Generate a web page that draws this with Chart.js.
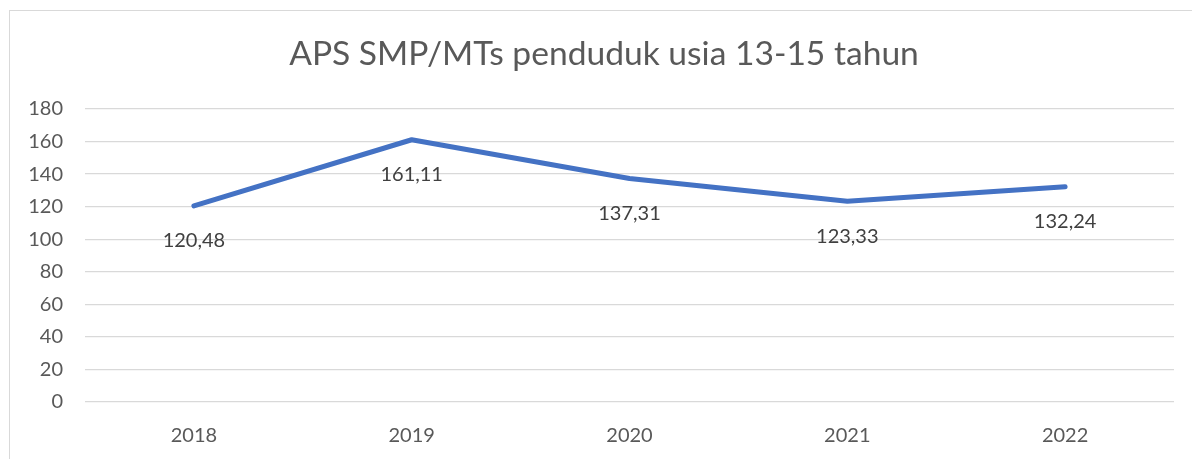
<!DOCTYPE html>
<html>
<head>
<meta charset="utf-8">
<script src="https://cdn.jsdelivr.net/npm/chart.js@4/dist/chart.umd.min.js"></script>
<style>
  html, body { margin: 0; padding: 0; background: #ffffff; overflow: hidden; }
  #frame { position: absolute; left: 9px; top: 10px; width: 1200px; height: 470px; border: 1px solid #d9d9d9; box-sizing: border-box; }
  #wrap { position: absolute; left: 0; top: 0; width: 1192px; height: 459px; }
</style>
</head>
<body>
<div id="frame"></div>
<div id="wrap"><canvas id="c" width="1192" height="459"></canvas></div>
<script>
const titleText = 'APS SMP/MTs penduduk usia 13-15 tahun';
const categories = ['2018', '2019', '2020', '2021', '2022'];
const apsValues = [120.48, 161.11, 137.31, 123.33, 132.24];
const yMin = 0;
const yMax = 180;
const yStep = 20;

const FONT = 'Lato, "Open Sans", sans-serif';

function fmt(v) { return v.toFixed(2).replace('.', ','); }

const titlePlugin = {
  id: 'frameTitle',
  afterDraw(chart) {
    const ctx = chart.ctx;
    ctx.save();
    ctx.font = '33.6px ' + FONT;
    ctx.fillStyle = '#595959';
    ctx.textAlign = 'center';
    ctx.textBaseline = 'alphabetic';
    ctx.fillText(titleText, 604, 65);
    ctx.restore();
  }
};

const labelPlugin = {
  id: 'pointLabels',
  afterDatasetsDraw(chart) {
    const ctx = chart.ctx;
    const meta = chart.getDatasetMeta(0);
    const data = chart.data.datasets[0].data;
    ctx.save();
    ctx.font = '20px ' + FONT;
    ctx.fillStyle = '#404040';
    ctx.textAlign = 'center';
    ctx.textBaseline = 'middle';
    meta.data.forEach((pt, i) => {
      ctx.fillText(fmt(data[i]), pt.x, pt.y + 35);
    });
    ctx.restore();
  }
};

new Chart(document.getElementById('c'), {
  type: 'line',
  data: {
    labels: categories,
    datasets: [{
      label: titleText,
      data: apsValues,
      borderColor: '#4472C4',
      backgroundColor: '#4472C4',
      borderWidth: 5,
      borderCapStyle: 'round',
      borderJoinStyle: 'round',
      pointRadius: 0,
      pointHoverRadius: 0,
      tension: 0,
      fill: false
    }]
  },
  options: {
    responsive: false,
    animation: false,
    devicePixelRatio: 1,
    layout: { padding: { left: 0, right: 18, top: 109, bottom: 0 } },
    plugins: {
      legend: { display: false },
      tooltip: { enabled: false },
      title: { display: false }
    },
    scales: {
      x: {
        offset: true,
        grid: { display: false, drawTicks: false },
        border: { display: false },
        ticks: { color: '#595959', font: { family: FONT, size: 20 }, padding: 22 },
        afterFit(s) { s.height = 57; }
      },
      y: {
        min: yMin,
        max: yMax,
        grid: { color: '#d9d9d9', lineWidth: 1.3, drawTicks: false },
        border: { display: false },
        ticks: { stepSize: yStep, color: '#595959', font: { family: FONT, size: 20 }, padding: 22 },
        afterFit(s) { s.width = 85; }
      }
    }
  },
  plugins: [labelPlugin, titlePlugin]
});
</script>
</body>
</html>
